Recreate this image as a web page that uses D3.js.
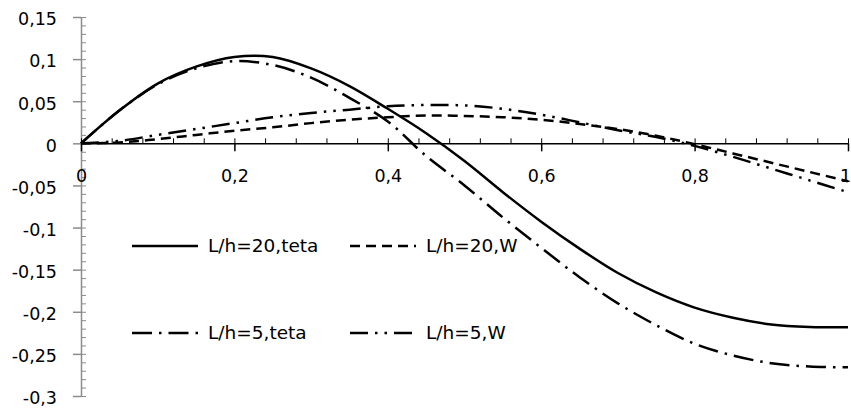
<!DOCTYPE html>
<html>
<head>
<meta charset="utf-8">
<script src="https://cdn.jsdelivr.net/npm/d3@7"></script>
<style>
  body { margin: 0; background: #fff; }
  svg { display: block; font-family: "DejaVu Sans", sans-serif; }
</style>
</head>
<body>
<div id="chart"></div>
<script>
// position along the beam
const xs = [0, 0.05, 0.1, 0.15, 0.2, 0.25, 0.3, 0.35, 0.4, 0.45, 0.5,
            0.55, 0.6, 0.65, 0.7, 0.75, 0.8, 0.85, 0.9, 0.95, 1];

const teta20 = [0, 0.039, 0.071, 0.091, 0.1025, 0.1025, 0.089, 0.068, 0.041, 0.012, -0.021,
                -0.058, -0.093, -0.125, -0.154, -0.177, -0.195, -0.207, -0.215, -0.218, -0.2185];
const w20 = [0, 0.001, 0.005, 0.01, 0.015, 0.019, 0.024, 0.028, 0.031, 0.033, 0.0325,
             0.031, 0.028, 0.023, 0.017, 0.009, -0.001, -0.012, -0.023, -0.034, -0.045];
const teta5 = [0, 0.039, 0.07, 0.089, 0.0975, 0.093, 0.078, 0.054, 0.026, -0.015, -0.05,
               -0.088, -0.124, -0.159, -0.19, -0.216, -0.238, -0.252, -0.261, -0.265, -0.266];
const w5 = [0, 0.003, 0.01, 0.017, 0.024, 0.031, 0.036, 0.04, 0.044, 0.0455, 0.045,
            0.041, 0.034, 0.025, 0.0155, 0.0075, -0.003, -0.016, -0.03, -0.044, -0.058];

const seriesNames = ["L/h=20,teta", "L/h=20,W", "L/h=5,teta", "L/h=5,W"];
const seriesValues = [teta20, w20, teta5, w5];
const dashes = [null, "10,6", "20,7,2.5,7", "18,7,2.5,7,2.5,7"];

const xTicks = [0, 0.2, 0.4, 0.6, 0.8, 1];
const xLabels = ["0", "0,2", "0,4", "0,6", "0,8", "1"];
const yTicks = [0.15, 0.1, 0.05, 0, -0.05, -0.1, -0.15, -0.2, -0.25, -0.3];
const yLabels = ["0,15", "0,1", "0,05", "0", "-0,05", "-0,1", "-0,15", "-0,2", "-0,25", "-0,3"];

const W = 851, H = 408;
const svg = d3.select("#chart").append("svg").attr("width", W).attr("height", H);

const x = d3.scaleLinear().domain([0, 1]).range([81, 848]);
const y = d3.scaleLinear().domain([-0.3, 0.15]).range([396, 17]);

// y axis (grey), major ticks outside, minor inside
const yMinor = d3.range(-30, 16).map(d => d / 100);
svg.append("g")
  .attr("transform", `translate(${x(0)},0)`)
  .attr("color", "#8c8c8c")
  .call(d3.axisRight(y).tickValues(yMinor).tickSize(5).tickSizeOuter(0).tickFormat(""))
  .call(g => g.select(".domain").remove());

const yAxis = svg.append("g")
  .attr("transform", `translate(${x(0)},0)`)
  .attr("color", "#8c8c8c")
  .call(d3.axisLeft(y).tickValues(yTicks).tickSize(8).tickSizeOuter(0)
    .tickFormat((d, i) => yLabels[i]));
yAxis.select(".domain").attr("stroke-width", 1.5);
yAxis.selectAll(".tick line").attr("stroke-width", 1.5);
yAxis.selectAll("text")
  .attr("fill", "#000")
  .attr("x", -24)
  .attr("dy", "0.45em")
  .style("font-size", "17.5px")
  .style("font-family", "DejaVu Sans");

// x axis at zero, black
const xMinor = d3.range(0, 26).map(d => d * 0.04);
svg.append("g")
  .attr("transform", `translate(0,${y(0)})`)
  .attr("color", "#000")
  .call(d3.axisTop(x).tickValues(xMinor).tickSize(5).tickSizeOuter(0).tickFormat(""))
  .call(g => g.select(".domain").remove());

const xAxis = svg.append("g")
  .attr("transform", `translate(0,${y(0)})`)
  .attr("color", "#000")
  .call(d3.axisBottom(x).tickValues(xTicks).tickSize(8).tickSizeOuter(0)
    .tickFormat((d, i) => xLabels[i]));
xAxis.select(".domain").attr("stroke-width", 1.5);
xAxis.selectAll(".tick line").attr("stroke-width", 1.5);
xAxis.selectAll("text")
  .attr("y", 39)
  .attr("dy", 0)
  .attr("x", (d, i) => i === xTicks.length - 1 ? -3 : 0)
  .style("font-size", "17.5px")
  .style("font-family", "DejaVu Sans");

// curves
const line = d3.line()
  .x((d, i) => x(xs[i]))
  .y(d => y(d))
  .curve(d3.curveCatmullRom.alpha(0.5));

svg.selectAll(".series")
  .data(seriesValues)
  .enter()
  .append("path")
  .attr("class", "series")
  .attr("fill", "none")
  .attr("stroke", "#000")
  .attr("stroke-width", 2.5)
  .attr("stroke-dasharray", (d, i) => dashes[i])
  .attr("d", line);

// legend, 2 x 2
const legendPos = [[132, 246], [350, 246], [132, 333], [350, 333]];
const legend = svg.append("g").attr("id", "legend");
seriesNames.forEach((name, i) => {
  const [lx, ly] = legendPos[i];
  legend.append("line")
    .attr("x1", lx).attr("x2", lx + 66)
    .attr("y1", ly).attr("y2", ly)
    .attr("stroke", "#000")
    .attr("stroke-width", 2.5)
    .attr("stroke-dasharray", dashes[i]);
  legend.append("text")
    .attr("x", lx + 76)
    .attr("y", ly + 6)
    .style("font-size", "18.5px")
    .text(name);
});
</script>
</body>
</html>
